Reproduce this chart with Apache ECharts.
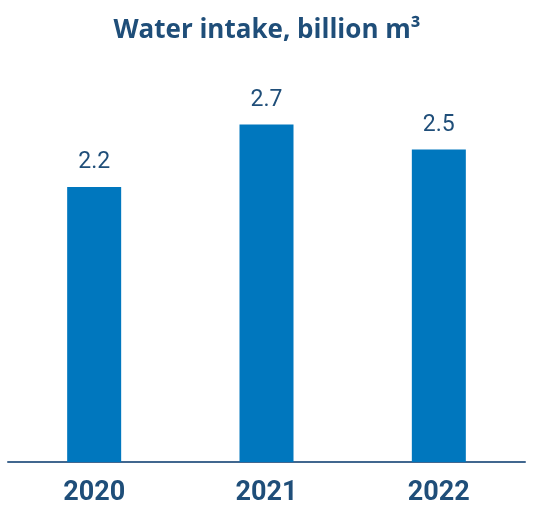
<!DOCTYPE html>
<html>
<head>
<meta charset="utf-8">
<script src="https://cdn.jsdelivr.net/npm/echarts@6/dist/echarts.min.js"></script>
<style>html,body{margin:0;padding:0;background:#fff;}#c{width:534px;height:507px;}</style>
</head>
<body>
<div id="c"></div>
<script>
const categories = ['2020', '2021', '2022'];
const values = [2.2, 2.7, 2.5];
const titleText = 'Water intake, billion m³';

const chart = echarts.init(document.getElementById('c'));
chart.setOption({
  animation: false,
  title: {
    text: titleText,
    left: 'center',
    top: 13,
    textStyle: { fontFamily: 'Open Sans', fontSize: 26, fontWeight: 'bold', color: '#1f4e79' }
  },
  grid: { left: 8, right: 9, top: 87, bottom: 42, containLabel: false },
  xAxis: {
    type: 'category',
    data: categories,
    axisLine: { lineStyle: { color: '#41678f', width: 2 } },
    axisTick: { show: false },
    axisLabel: { margin: 18, fontFamily: 'Roboto', fontSize: 27, fontWeight: 'bold', color: '#1f4e79' }
  },
  yAxis: {
    type: 'value',
    min: 0,
    max: 3,
    show: false,
    splitLine: { show: false }
  },
  series: [{
    type: 'bar',
    data: values,
    barWidth: 54,
    itemStyle: { color: '#0077be' },
    label: {
      show: true,
      position: 'top',
      distance: 13,
      fontFamily: 'Roboto',
      fontSize: 23,
      color: '#1f4e79',
      formatter: p => p.value.toFixed(1)
    }
  }]
});
</script>
</body>
</html>
